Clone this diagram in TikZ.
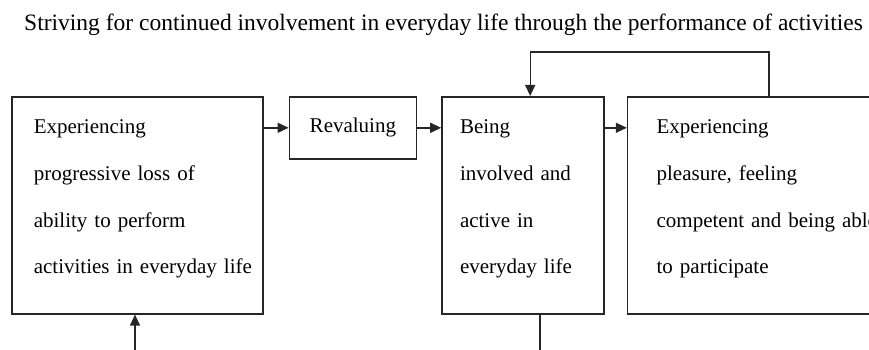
\documentclass[tikz,border=0pt]{standalone}
\usepackage{fontspec}
\setmainfont{Liberation Serif}
\usetikzlibrary{positioning,arrows.meta}
\tikzset{
  stagebox/.style={draw=black!85, line width=1.6pt, rectangle, anchor=north west,
    align=left, inner xsep=0pt, inner ysep=23pt, text height=14pt, text depth=157pt,
    font=\fontsize{21}{46.7}\selectfont},
  revbox/.style={draw=black!85, line width=1.6pt, rectangle, inner sep=0pt,
    minimum width=127pt, minimum height=62pt, font=\fontsize{21}{25}\selectfont},
  arr/.style={draw=black!85, line width=1.4pt, -{Triangle[length=11pt,width=10pt]}},
}
\begin{document}
\begin{tikzpicture}[x=1pt, y=-1pt]
    \clip (0,0) rectangle (869,350);
    \node[anchor=base west, inner sep=0pt, font=\fontsize{23.5}{28}\selectfont] (title) at (24,31)
        {Striving for continued involvement in everyday life through the performance of activities};
    \node[stagebox, minimum width=251pt, text width=207pt] (loss) at (11,96)
        {Experiencing\\progressive loss of\\ability to perform\\\mbox{activities in everyday life}};
    \node[revbox, right=25pt of loss.north east, anchor=north west] (rev) {Revaluing};
    \node[stagebox, minimum width=162pt, text width=126pt, right=24pt of rev.north east, anchor=north west] (being)
        {Being\\involved and\\active in\\everyday life};
    \node[stagebox, minimum width=288pt, text width=230pt, right=22pt of being.north east, anchor=north west] (exper)
        {Experiencing\\pleasure, feeling\\competent and being able\\to participate};
    \coordinate (lossin) at (135,350);
    \coordinate (beingout) at (540,350);
    \draw[arr] (loss.east |- rev.west) -- (rev.west);
    \draw[arr] (rev.east) -- (being.west |- rev.east);
    \draw[arr] (being.east |- rev.east) -- (exper.west |- rev.east);
    \draw[arr] ([xshift=142pt]exper.north west) -- ++(0,-44) -| ([xshift=89pt]being.north west);
    \draw[arr] (lossin) -- (lossin |- loss.south);
    \draw[draw=black!85, line width=1.4pt] (being.south -| beingout) -- (beingout);
\end{tikzpicture}
\end{document}
